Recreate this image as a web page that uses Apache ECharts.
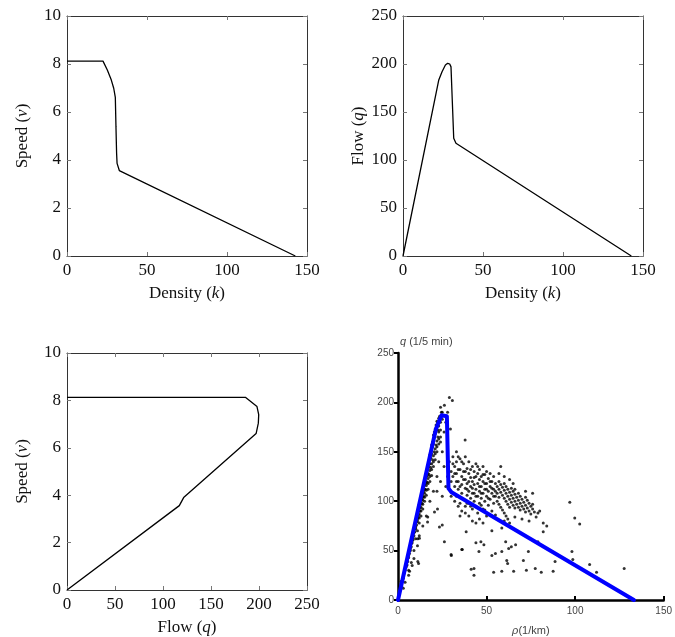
<!DOCTYPE html>
<html>
<head>
    <meta http-equiv="Content-Type" content="text/html; charset=utf-8" />
    <script src="https://cdn.jsdelivr.net/npm/echarts@6/dist/echarts.min.js"></script>
    <style>
        html, body { margin: 0; padding: 0; background: #fff; }
        #main { width: 675px; height: 637px; }
    </style>
</head>
<body>
<div id="main"></div>
<script type="text/javascript">
    // speed vs density (top left)
    var densA = [0, 22.5, 25.2, 27.7, 29.2, 30.2, 30.6, 31.0, 31.3, 32.7, 142.7];
    var speedA = [8.12, 8.12, 7.75, 7.33, 6.99, 6.61, 5.39, 4.28, 3.86, 3.56, 0];

    // flow vs density (top right)
    var densB = [0, 22.3, 24.4, 26.5, 27.9, 29.2, 30.0, 30.8, 31.7, 33.1, 142.7];
    var flowB = [0, 183, 192, 199, 200.7, 200, 197, 162, 122.6, 117.4, 0];

    // speed vs flow (bottom left)
    var flowC = [0, 185.8, 197.9, 199.7, 199.3, 197, 121.5, 117, 0];
    var speedC = [8.13, 8.13, 7.74, 7.4, 7.04, 6.6, 3.9, 3.56, 0];

    // fitted line on measured data (bottom right)
    var densFit = [0, 21.4, 24.6, 27.6, 28.5, 30.2, 133.2];
    var flowFit = [0, 173, 187, 186, 113, 109, 0];

    // measured points [density, flow]
    var measured = [
        [1.9,19],[2,14],[2.5,20],[3,22],[3,12],[3.5,27],[4,30],[4,18],[4.5,33],[5,36],[5,40],[5.5,42],[6,45],[6,48],[6,25],[6,30],
        [6.5,50],[6.5,29],[7,52],[7,56],[7.5,57],[7.5,60],[7.5,38],[8,60],[8,64],[8,35],[8.5,63],[8.5,67],[9,68],[9,71],[9,42],[9,50],
        [9.5,72],[9.5,75],[10,74],[10,78],[10,81],[10,62],[10.5,79],[10.5,84],[11,82],[11,86],[11,89],[11,55],[11,70],[11.2,62],[11.2,39],
        [11.5,86],[11.5,91],[11.6,37],[12,90],[12,94],[12,97],[12,65],[12,78],[12.1,62.6],[12.5,93],[12.5,99],[13,97],[13,101],[13,104],[13,85],
        [13.5,102],[13.5,107],[14,104],[14,108],[14,112],[14,75],[14,92],[14.5,110],[14.5,115],[15,112],[15,117],[15,120],[15,100],
        [15.5,118],[15.5,123],[16,120],[16,125],[16,128],[16,85],[16,106],[16.5,126],[16.5,131],[16.7,79],[16.8,84],[17,128],[17,133],[17,137],[17,112],
        [17.5,135],[17.5,140],[18,138],[18,143],[18,147],[18,100],[18,120],[18.5,144],[18.5,150],[19,148],[19,153],[19,157],[19,126],
        [19.5,155],[19.5,160],[20,158],[20,163],[20,167],[20,110],[20,135],[20.5,165],[20.5,170],[20.6,89],[21,168],[21,173],[21,142],
        [21.5,172],[21.5,177],[22,176],[22,181],[22,150],[22,125],[22,110],[22.3,92],[22.5,180],[23,184],[23,158],[23,140],[23.4,74],
        [23.5,186],[24,165],[24,160],[24,120],[24,195],[24.5,190],[25,150],[25,105],[25,190],[25,76],[26,135],[26,170],[26.2,197],[26.2,59],
        [27,115],[27,180],[28,125],[28,190],[29,205],[29.6,173],[30.7,202],[30,46],[30.1,45],[33,150],[34,145],[37.9,162],
        [5,35],[5.5,39],[6,43],[6.5,47],[7,50],[7.5,54],[8,58],[8.5,61],[9,65],[9.5,69],[10,72],[10.5,76],[11,80],[11.5,84],[12,87],
        [12.5,90],[13,94],[13.5,98],[14,101],[14.5,105],[15,108],[15.5,112],[16,116],[16.5,119],[17,123],[17.5,127],[18,131],[18.5,134],
        [19,138],[19.5,142],[20,146],[20.5,150],[21,153],[21.5,157],[22,161],[22.5,165],[23,170],[23,176],[12,83],[13,90],[14,97],
        [15,104],[16,111],[17,118],[18,125],[19,132],[20,140],[21,148],[22,155],[23,163],[24,172],[24,180],[25,183],[22.5,172],
        [29,140],[30,130],[30,120],[30,105],[31,145],[31,125],[32,135],[32,115],[32,100],[33,140],[33,128],[33,105],[34,120],[34,112],[34,95],
        [35,143],[35,132],[35,98],[35,85],[36,125],[36,117],[36,108],[36,90],[36,51],[36.3,51],[37,138],[37,130],[37,102],[38,145],[38,122],
        [38,113],[38,95],[38,88],[38.5,69],[39,133],[39,118],[39,106],[40,128],[40,140],[40,110],[40,98],[40,85],[41,124],[41,115],[41,103],
        [41.3,31],[42,135],[42,120],[42,108],[42,92],[42,80],[42.9,32],[42.9,25],[43,130],[43,117],[43,100],[44,138],[44,125],[44,112],
        [44,95],[44,78],[44,58],[45,128],[45,118],[45,105],[45,88],[45.7,49],[46,132],[46,122],[46,110],[46,98],[46,82],[46.8,59],
        [47,125],[47,115],[47,103],[48,135],[48,120],[48,108],[48,92],[48,78],[48.5,56],[49,127],[49,112],[49,100],[50,130],[50,118],
        [50,105],[50,85],[51,123],[51,110],[51,96],[52,128],[52,115],[52,102],[53,120],[53,108],[53,90],[53,45],[53,70],[54,125],[54,112],
        [31,138],[32,128],[33,120],[34,132],[35,115],[36,140],[37,122],[38,130],[39,112],[40,120],[41,132],[42,113],[43,124],[44,105],
        [45,135],[46,115],[47,108],[48,127],[49,118],[50,112],[51,103],[52,120],[53,113],[54,105],[55,110],[56,108],[57,104],[39,98],
        [41,95],[43,108],[47,96],[49,91],
        [54,98],[54,28],[55,118],[55,105],[55,86],[55,47],[56,115],[56,100],[57,112],[57,120],[57,97],[57,128],[58,109],[58,117],[58,94],
        [58,135],[58.6,49],[58.6,29],[58.6,73],[59,106],[59,114],[59,91],[60,103],[60,111],[60,88],[60,118],[60,80],[60,125],[60.8,59],
        [61,100],[61,108],[61,85],[61,115],[61.4,40],[61.9,37],[62,97],[62,105],[62,82],[62,112],[62.5,52],[63,94],[63,102],[63,109],
        [63,78],[63,122],[64,99],[64,106],[64,113],[64,54],[65,96],[65,103],[65,110],[65,118],[65.3,29],[66,93],[66,100],[66,107],
        [66,84],[66,112],[66.4,56],[67,97],[67,104],[68,94],[68,101],[68,108],[69,91],[69,98],[69,105],[70,95],[70,102],[70,82],
        [70.8,40],[71,92],[71,99],[72,89],[72,96],[72,104],[72,110],[72.5,30],[73,93],[73,101],[73.6,49],[74,90],[74,98],[74,80],
        [75,87],[75,95],[76,92],[76,97],[76,108],[77,89],[77.5,32],[78,84],[79,88],[79,59],[80,90],[80.9,28],[82,78],[82,69],[84,75],
        [87.6,29],[88.7,39],[97,99],[98.2,49],[98.7,41],[99.8,83],[102.6,77],[108.2,36],[112.1,28],[127.7,32]
    ];

    var ticksK = [0, 50, 100, 150];
    var ticksV = [0, 2, 4, 6, 8, 10];
    var ticksQ = [0, 50, 100, 150, 200, 250];

    var serif = 'Liberation Serif';
    var ink = '#111';
    var rich = {
        r: { fontFamily: serif, fontSize: 17, color: ink },
        i: { fontFamily: serif, fontSize: 17, color: ink, fontStyle: 'italic' }
    };

    function pairs(xs, ys) {
        var out = [];
        for (var i = 0; i < xs.length; i++) out.push([xs[i], ys[i]]);
        return out;
    }

    // boxed serif axes, ticks pointing inside on all four sides
    function boxAxis(dim, g, ticks, name, mirror) {
        var ax = {
            type: 'value',
            gridIndex: g,
            min: ticks[0],
            max: ticks[ticks.length - 1],
            interval: ticks[1] - ticks[0],
            splitLine: { show: false },
            axisLine: { show: true, onZero: false, lineStyle: { color: '#333', width: 1 } },
            axisTick: { show: true, inside: true, length: 4, lineStyle: { color: '#777' } },
            axisLabel: { show: !mirror, fontFamily: serif, fontSize: 17, color: ink, margin: 6 }
        };
        if (dim === 'x') {
            ax.position = mirror ? 'top' : 'bottom';
        } else {
            ax.position = mirror ? 'right' : 'left';
        }
        if (!mirror) {
            ax.name = name;
            ax.nameLocation = 'middle';
            ax.nameGap = dim === 'x' ? 29 : 36;
            ax.nameTextStyle = { rich: rich };
        }
        return ax;
    }

    var chart = echarts.init(document.getElementById('main'));
    var option = {
        animation: false,
        backgroundColor: '#fff',
        grid: [
            { left: 67, top: 16, width: 240, height: 240 },
            { left: 403, top: 16, width: 240, height: 240 },
            { left: 67, top: 353, width: 240, height: 239 },
            { left: 398, top: 353, width: 269, height: 249 }
        ],
        xAxis: [
            boxAxis('x', 0, ticksK, '{r|Density (}{i|k}{r|)}', false),
            boxAxis('x', 0, ticksK, '', true),
            boxAxis('x', 1, ticksK, '{r|Density (}{i|k}{r|)}', false),
            boxAxis('x', 1, ticksK, '', true),
            boxAxis('x', 2, ticksQ, '{r|Flow (}{i|q}{r|)}', false),
            boxAxis('x', 2, ticksQ, '', true),
            {
                type: 'value', gridIndex: 3, min: 0, max: 150, interval: 50,
                splitLine: { show: false },
                axisLine: { show: true, onZero: false, lineStyle: { color: '#000', width: 2.5 } },
                axisTick: { show: true, inside: true, length: 4, lineStyle: { color: '#000', width: 2 } },
                axisLabel: { fontFamily: 'Liberation Sans', fontSize: 10, color: '#444', margin: 6 },
                name: '{i|ρ}(1/km)', nameLocation: 'middle', nameGap: 25,
                nameTextStyle: {
                    rich: {
                        i: { fontFamily: 'Liberation Sans', fontSize: 11, color: '#444', fontStyle: 'italic' }
                    },
                    fontFamily: 'Liberation Sans', fontSize: 11, color: '#444'
                }
            }
        ],
        yAxis: [
            boxAxis('y', 0, ticksV, '{r|Speed (}{i|v}{r|)}', false),
            boxAxis('y', 0, ticksV, '', true),
            boxAxis('y', 1, ticksQ, '{r|Flow (}{i|q}{r|)}', false),
            boxAxis('y', 1, ticksQ, '', true),
            boxAxis('y', 2, ticksV, '{r|Speed (}{i|v}{r|)}', false),
            boxAxis('y', 2, ticksV, '', true),
            {
                type: 'value', gridIndex: 3, min: 0, max: 250, interval: 50,
                splitLine: { show: false },
                axisLine: { show: true, onZero: false, lineStyle: { color: '#000', width: 2.5 } },
                axisTick: { show: true, length: 4, lineStyle: { color: '#000', width: 2 } },
                axisLabel: { fontFamily: 'Liberation Sans', fontSize: 10, color: '#444', margin: 4 },
                name: '{i|q} (1/5 min)', nameLocation: 'end', nameGap: 6,
                nameTextStyle: {
                    align: 'left', padding: [0, 0, 0, 2],
                    rich: {
                        i: { fontFamily: 'Liberation Sans', fontSize: 11, color: '#444', fontStyle: 'italic' }
                    },
                    fontFamily: 'Liberation Sans', fontSize: 11, color: '#444'
                }
            }
        ],
        series: [
            {
                type: 'line', xAxisIndex: 0, yAxisIndex: 0, data: pairs(densA, speedA),
                symbol: 'none', lineStyle: { color: '#000', width: 1.3 }
            },
            {
                type: 'line', xAxisIndex: 2, yAxisIndex: 2, data: pairs(densB, flowB),
                symbol: 'none', lineStyle: { color: '#000', width: 1.3 }
            },
            {
                type: 'line', xAxisIndex: 4, yAxisIndex: 4, data: pairs(flowC, speedC),
                symbol: 'none', lineStyle: { color: '#000', width: 1.3 }
            },
            {
                type: 'scatter', xAxisIndex: 6, yAxisIndex: 6, data: measured,
                symbolSize: 3, itemStyle: { color: '#000' }
            },
            {
                type: 'line', xAxisIndex: 6, yAxisIndex: 6, data: pairs(densFit, flowFit),
                symbol: 'none', lineStyle: { color: '#0000ff', width: 4, join: 'round', cap: 'round' }
            }
        ]
    };
    chart.setOption(option);
</script>
</body>
</html>
